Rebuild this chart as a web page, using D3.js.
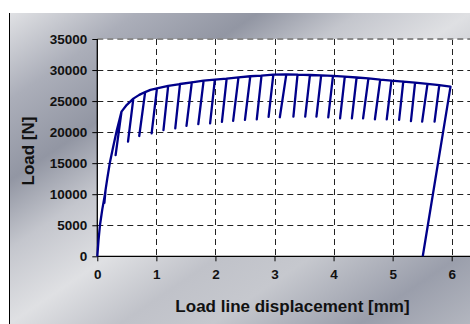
<!DOCTYPE html>
<html>
<head>
<meta charset="utf-8">
<script src="https://cdn.jsdelivr.net/npm/d3@7"></script>
<style>
  html, body { margin: 0; padding: 0; background: #ffffff; }
  svg { display: block; }
  text { font-family: "Liberation Sans", Arial, sans-serif; font-weight: bold; fill: #111; }
</style>
</head>
<body>
<svg id="chart" width="470" height="324"></svg>
<script>
// ---- data ----
const xTicks = [0, 1, 2, 3, 4, 5, 6];
const yTicks = [0, 5000, 10000, 15000, 20000, 25000, 30000, 35000];
const xTitle = "Load line displacement [mm]";
const yTitle = "Load [N]";

// recorded path: displacement [mm] and load [N] (loading, unloading/reloading cycles, final unloading)
const displacement = [
  0, 0.02, 0.045, 0.085, 0.13, 0.14, 0.12, 0.14, 0.17, 0.215, 0.27, 0.33, 0.375,
  0.41, 0.31, 0.41, 0.50,
  0.61, 0.52, 0.61, 0.71,
  0.81, 0.71, 0.81, 0.90,
  1.01, 0.92, 1.01,
  1.20, 1.12, 1.20,
  1.40, 1.32, 1.40,
  1.60, 1.51, 1.60,
  1.80, 1.71, 1.80,
  1.99, 1.91, 1.99,
  2.19, 2.11, 2.19,
  2.39, 2.30, 2.39,
  2.59, 2.50, 2.59,
  2.78, 2.70, 2.78,
  2.98, 2.90, 2.98,
  3.20, 3.09, 3.20,
  3.39, 3.32, 3.39,
  3.60, 3.52, 3.60,
  3.79, 3.71, 3.79,
  3.99, 3.91, 3.99,
  4.19, 4.11, 4.19,
  4.39, 4.31, 4.39,
  4.59, 4.50, 4.59,
  4.79, 4.70, 4.79,
  4.98, 4.90, 4.98,
  5.18, 5.11, 5.18,
  5.38, 5.31, 5.38,
  5.59, 5.50, 5.59,
  5.79, 5.71, 5.79,
  5.98, 5.51
];
const load = [
  0, 2500, 5000, 7600, 10000, 10700, 8600, 10700, 12600, 15200, 17700, 20300, 22000,
  23300, 16300, 23300, 24400,
  25400, 18460, 25400, 26000,
  26450, 19380, 26450, 26800,
  27050, 19810, 27050,
  27450, 20340, 27450,
  27750, 20620, 27750,
  28030, 21000, 28030,
  28290, 21300, 28290,
  28450, 21400, 28450,
  28620, 21650, 28620,
  28830, 21800, 28830,
  29000, 21960, 29000,
  29100, 22070, 29100,
  29250, 22450, 29250,
  29300, 22400, 29300,
  29250, 22490, 29250,
  29200, 22490, 29200,
  29150, 22490, 29150,
  29050, 22390, 29050,
  28930, 22230, 28930,
  28800, 22230, 28800,
  28650, 22230, 28650,
  28450, 22070, 28450,
  28300, 22070, 28300,
  28150, 21960, 28150,
  27970, 21790, 27970,
  27780, 21680, 27780,
  27580, 21680, 27580,
  27320, 0
];

// ---- drawing ----
const svg = d3.select("#chart");
const W = 470, H = 324;
const plot = { left: 97.3, top: 39, bottom: 256.3, right: 480 };

const x = d3.scaleLinear().domain([0, 6]).range([plot.left, 451.7]);
const y = d3.scaleLinear().domain([0, 35000]).range([plot.bottom, plot.top]);

// background gradient of the chart frame
const defs = svg.append("defs");
const g1 = defs.append("linearGradient").attr("id", "bg")
  .attr("x1", 0).attr("y1", 0).attr("x2", 1).attr("y2", 1);
[[0, "#e0e1e4"], [0.14, "#abaeb9"], [0.27, "#9296a3"], [0.38, "#c4c6cd"],
 [0.5, "#dfe0e3"], [0.62, "#c0c2c9"], [0.72, "#c6c8ce"], [0.88, "#9a9eab"], [1, "#b3b6bf"]]
  .forEach(([o, c]) => g1.append("stop").attr("offset", o).attr("stop-color", c));

svg.append("rect").attr("x", 9).attr("y", 13).attr("width", W - 9).attr("height", H - 13)
  .attr("fill", "url(#bg)");
svg.append("line").attr("x1", 9.5).attr("x2", 9.5).attr("y1", 13).attr("y2", H)
  .attr("stroke", "#000").attr("stroke-width", 1);

// plot area
svg.append("rect").attr("x", plot.left).attr("y", plot.top)
  .attr("width", plot.right - plot.left).attr("height", plot.bottom - plot.top)
  .attr("fill", "#fff");

// grid lines
const grid = svg.append("g");
grid.selectAll("line.h").data(yTicks.filter(v => v > 0 && v < 35000)).join("line")
  .attr("x1", plot.left).attr("x2", plot.right)
  .attr("y1", d => Math.round(y(d)) + 0.5).attr("y2", d => Math.round(y(d)) + 0.5)
  .attr("stroke", "#222").attr("stroke-width", 1).attr("stroke-dasharray", "6,4");
grid.selectAll("line.v").data(xTicks.filter(v => v > 0)).join("line")
  .attr("x1", d => Math.round(x(d)) + 0.5).attr("x2", d => Math.round(x(d)) + 0.5)
  .attr("y1", plot.top).attr("y2", plot.bottom)
  .attr("stroke", "#222").attr("stroke-width", 1).attr("stroke-dasharray", "6,4");
// top border (35000) grey dashed
grid.append("line").attr("x1", plot.left).attr("x2", plot.right)
  .attr("y1", y(35000)).attr("y2", y(35000))
  .attr("stroke", "#8a8a8a").attr("stroke-width", 2).attr("stroke-dasharray", "6,4");

// axes
const xAxis = d3.axisBottom(x).tickValues(xTicks).tickSize(5).tickPadding(8).tickFormat(d3.format("d"));
const yAxis = d3.axisLeft(y).tickValues(yTicks).tickSize(5).tickPadding(5).tickFormat(d3.format("d"));

const gx = svg.append("g").attr("transform", `translate(0,${plot.bottom})`).call(xAxis);
gx.select(".domain").attr("d", `M${plot.left},0H${plot.right}`).attr("stroke", "#000").attr("stroke-width", 1.3);
const gy = svg.append("g").attr("transform", `translate(${plot.left},0)`).call(yAxis);
gy.select(".domain").attr("d", `M0,${plot.top}V${plot.bottom}`).attr("stroke", "#000").attr("stroke-width", 1.3);

[gx, gy].forEach(g => {
  g.selectAll(".tick line").attr("stroke", "#000");
  g.selectAll(".tick text").attr("font-size", 13.5).attr("font-family", '"Liberation Sans", Arial, sans-serif')
    .attr("font-weight", "bold").attr("fill", "#111");
});

// curve
const pts = displacement.map((d, i) => [d, load[i]]);
svg.append("path").datum(pts)
  .attr("d", d3.line().x(p => x(p[0])).y(p => y(p[1])))
  .attr("fill", "none").attr("stroke", "#00008a").attr("stroke-width", 2.3)
  .attr("stroke-linejoin", "round");

// titles
svg.append("text").attr("x", 292.5).attr("y", 312).attr("text-anchor", "middle")
  .attr("font-size", 17).text(xTitle);
svg.append("text").attr("transform", "translate(33.5,151) rotate(-90)")
  .attr("text-anchor", "middle").attr("font-size", 17).text(yTitle);
</script>
</body>
</html>
